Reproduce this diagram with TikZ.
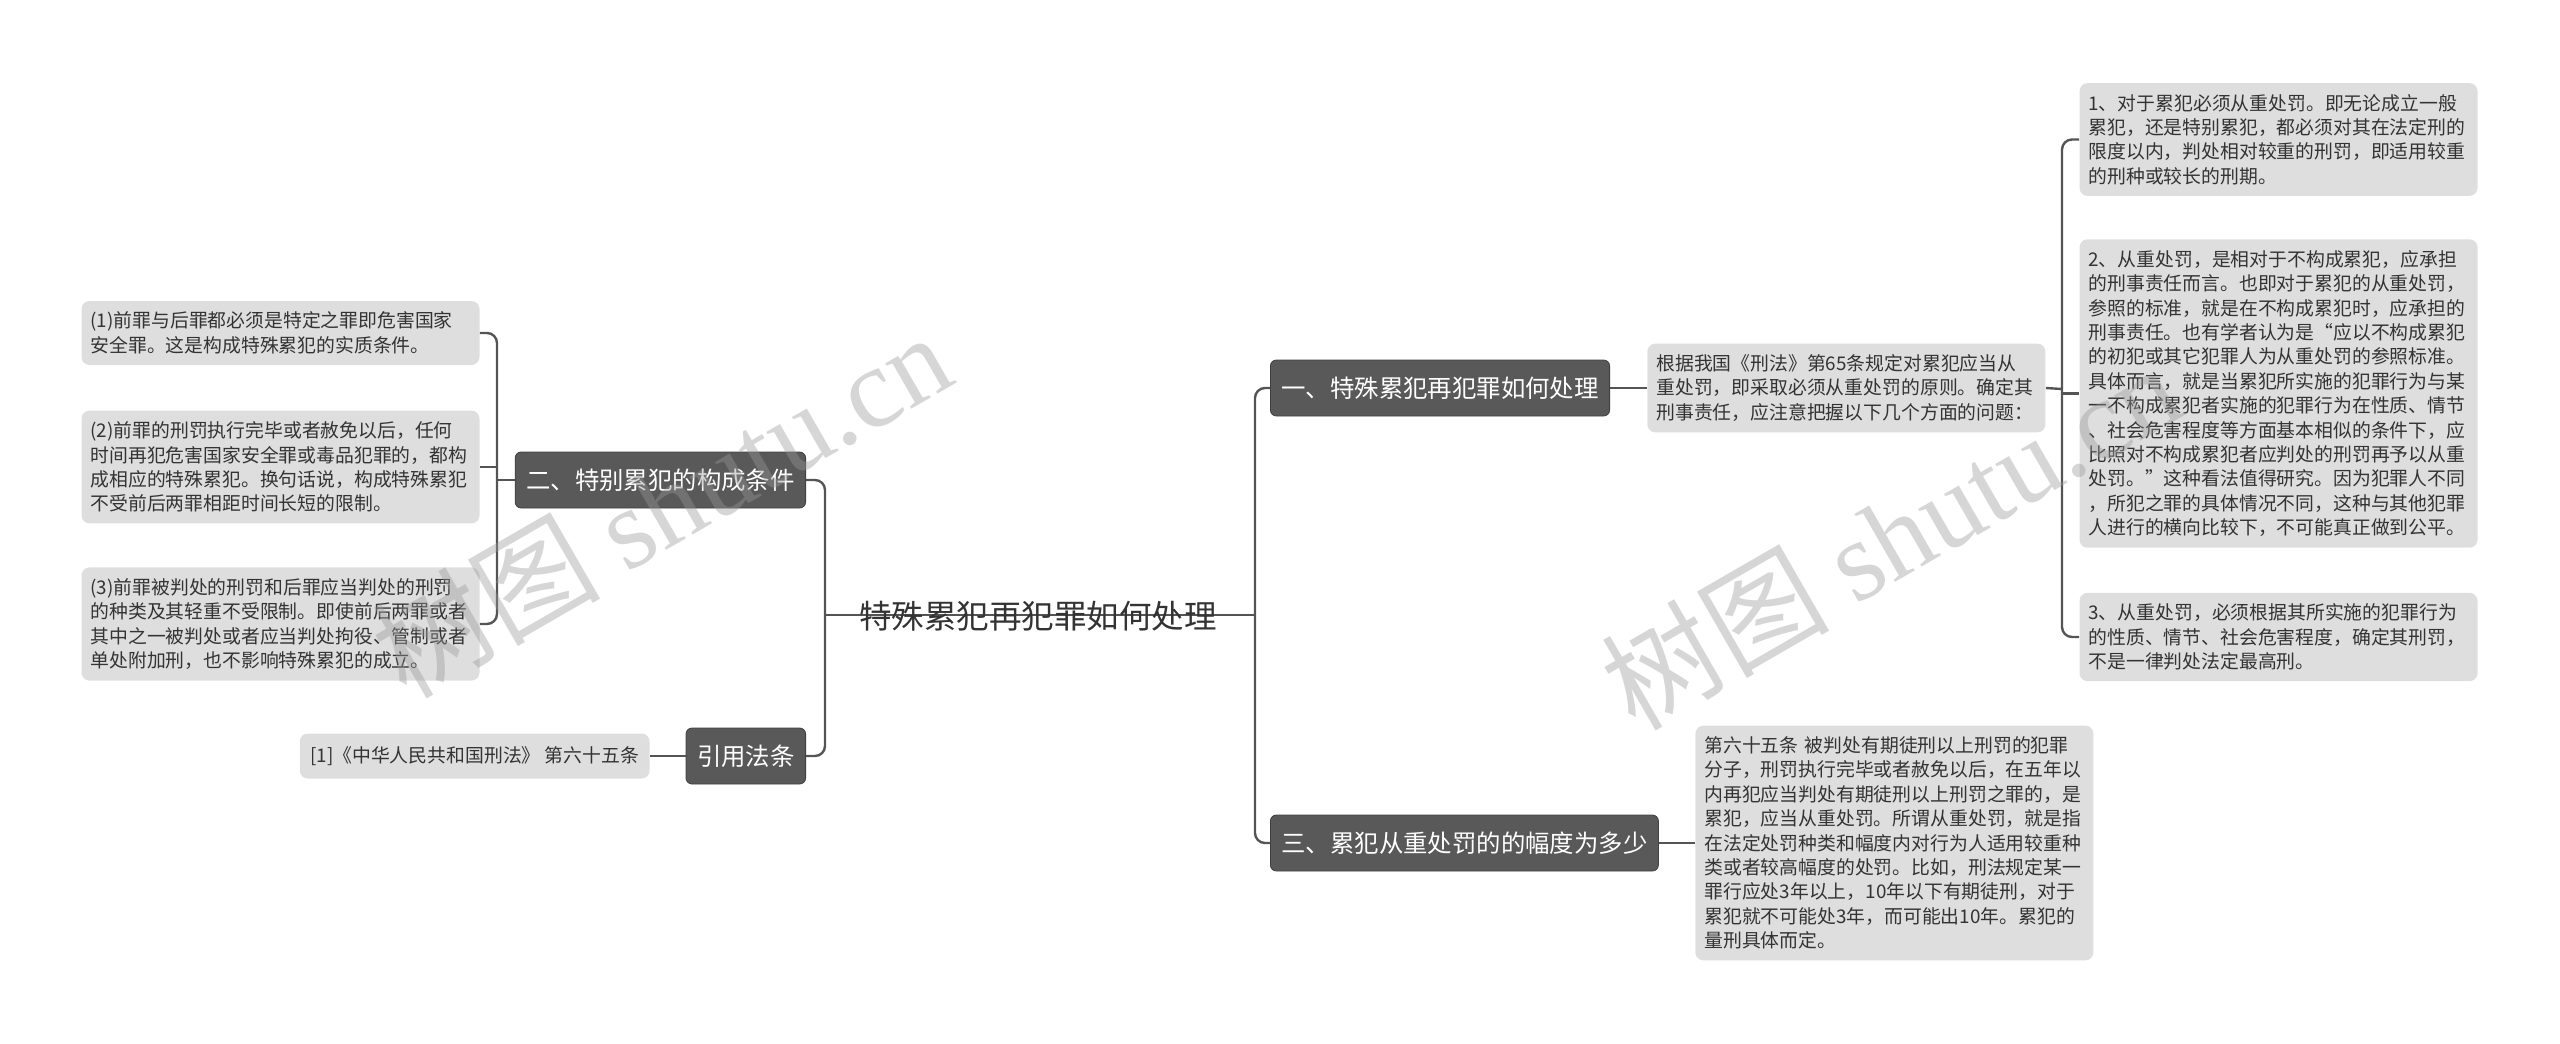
\documentclass[tikz,border=0pt]{standalone}
\usepackage{fontspec}
\setmainfont{Noto Sans CJK SC}
\newfontfamily\wmfont{Liberation Serif}
\usepackage{tikz}
\usetikzlibrary{positioning}
\usepackage{xcolor}
\tikzstyle{topic} = [rectangle, draw=black!75, fill=black!65, text=white, rounded corners=3pt, inner xsep=5.5pt, minimum height=28pt, font=\fontsize{12.2pt}{14pt}\selectfont]
\tikzstyle{leaf} = [rectangle, fill=black!13, text=black!80, rounded corners=4pt, text width=190pt, inner xsep=4.5pt, inner ysep=5.5pt, align=left, font=\fontsize{9.42pt}{12.2pt}\selectfont]
\tikzstyle{refbox} = [rectangle, fill=black!13, text=black!80, rounded corners=4pt, inner xsep=5.25pt, minimum height=22.5pt, font=\fontsize{9.42pt}{12.2pt}\selectfont]
\tikzstyle{title} = [text=black!80, font=\fontsize{16.25pt}{18pt}\selectfont]
\tikzstyle{wmark} = [text=black!40, opacity=0.4, rotate=30, font=\fontsize{57pt}{60pt}\selectfont]
\tikzstyle{line} = [draw, line width=1.2pt, color=black!67, rounded corners=5pt]

\begin{document}
\begin{tikzpicture}[x=1pt, y=1pt]
	\useasboundingbox (0,0) rectangle (1280,-522);
	%% junctions
	\coordinate (LJ) at (412.5,-307.5);
	\coordinate (RJ) at (627.5,-307.5);
	\coordinate (LK) at (248.5,-240);
	\coordinate (RK) at (1031,-194.5);
	%% centre line and title
	\path[line] (LJ) -- (RJ);
	\node[title] (T) at (519,-308) {特殊累犯再犯罪如何处理};
	%% branch two
	\node[topic, anchor=east] (B2) at (403,-240) {二、特别累犯的构成条件};
	%% leaves of branch two
	\node[leaf] (L1) at (140.25,-166.5) {(1)前罪与后罪都必须是特定之罪即危害国家\\安全罪。这是构成特殊累犯的实质条件。};
	\node[leaf, below of=L1, node distance=67pt] (L2) {(2)前罪的刑罚执行完毕或者赦免以后，任何\\时间再犯危害国家安全罪或毒品犯罪的，都构\\成相应的特殊累犯。换句话说，构成特殊累犯\\不受前后两罪相距时间长短的限制。};
	\node[leaf, below of=L2, node distance=78.5pt] (L3) {(3)前罪被判处的刑罚和后罪应当判处的刑罚\\的种类及其轻重不受限制。即使前后两罪或者\\其中之一被判处或者应当判处拘役、管制或者\\单处附加刑，也不影响特殊累犯的成立。};
	%% cited law
	\node[topic, anchor=east] (B4) at (403,-378) {引用法条};
	\node[refbox, anchor=east] (Ref) at (325,-378) {[1]《中华人民共和国刑法》 第六十五条};
	%% branch one
	\node[topic, anchor=west] (B1) at (635,-194) {一、特殊累犯再犯罪如何处理};
	\node[leaf, anchor=west] (Intro) at (823.5,-194) {根据我国《刑法》第65条规定对累犯应当从\\重处罚，即采取必须从重处罚的原则。确定其\\刑事责任，应注意把握以下几个方面的问题：};
	%% leaves of branch one
	\node[leaf] (R1) at (1139.25,-69.75) {1、对于累犯必须从重处罚。即无论成立一般\\累犯，还是特别累犯，都必须对其在法定刑的\\限度以内，判处相对较重的刑罚，即适用较重\\的刑种或较长的刑期。};
	\node[leaf, below of=R1, node distance=127pt] (R2) {2、从重处罚，是相对于不构成累犯，应承担\\的刑事责任而言。也即对于累犯的从重处罚，\\参照的标准，就是在不构成累犯时，应承担的\\刑事责任。也有学者认为是“应以不构成累犯\\的初犯或其它犯罪人为从重处罚的参照标准。\\具体而言，就是当累犯所实施的犯罪行为与某\\一不构成累犯者实施的犯罪行为在性质、情节\\、社会危害程度等方面基本相似的条件下，应\\比照对不构成累犯者应判处的刑罚再予以从重\\处罚。”这种看法值得研究。因为犯罪人不同\\，所犯之罪的具体情况不同，这种与其他犯罪\\人进行的横向比较下，不可能真正做到公平。};
	\node[leaf, below of=R2, node distance=121.75pt] (R3) {3、从重处罚，必须根据其所实施的犯罪行为\\的性质、情节、社会危害程度，确定其刑罚，\\不是一律判处法定最高刑。};
	%% branch three
	\node[topic, anchor=west] (B3) at (635,-421.5) {三、累犯从重处罚的的幅度为多少};
	\node[leaf, anchor=west] (Law) at (847.5,-421.5) {第六十五条 被判处有期徒刑以上刑罚的犯罪\\分子，刑罚执行完毕或者赦免以后，在五年以\\内再犯应当判处有期徒刑以上刑罚之罪的，是\\累犯，应当从重处罚。所谓从重处罚，就是指\\在法定处罚种类和幅度内对行为人适用较重种\\类或者较高幅度的处罚。比如，刑法规定某一\\罪行应处3年以上，10年以下有期徒刑，对于\\累犯就不可能处3年，而可能出10年。累犯的\\量刑具体而定。};
	%% edges
	\path[line] (B2.east) -| (LJ) |- (B4.east);
	\path[line] (B2.west) -- (LK);
	\path[line] (L1.east) -| (LK) |- (L3.east);
	\path[line] (L2.east) -- (L2.east -| LK);
	\path[line] (Ref) -- (B4);
	\path[line] (B1.west) -| (RJ) |- (B3.west);
	\path[line] (B1.east) -- (Intro.west);
	\path[line] (Intro.east) -- (RK);
	\path[line] (R1.west) -| (RK) |- (R3.west);
	\path[line] (R2.west) -- (R2.west -| RK);
	\path[line] (B3.east) -- (Law.west);
	%% watermarks
	\node[wmark] (WM1) at (330.5,-252) {树图 {\wmfont shutu.cn}};
	\node[wmark] (WM2) at (945,-268) {树图 {\wmfont shutu.cn}};
\end{tikzpicture}
\end{document}
